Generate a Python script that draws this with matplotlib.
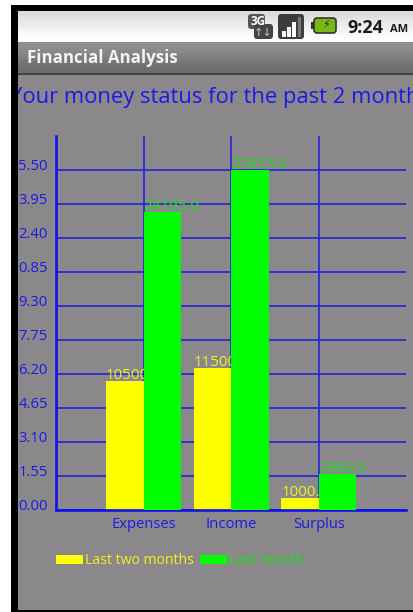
import numpy as np
import matplotlib
matplotlib.use("Agg")
import matplotlib.pyplot as plt
from matplotlib.patches import Rectangle, FancyBboxPatch

plt.rcParams['font.family'] = ['Open Sans', 'DejaVu Sans']

categories = ["Expenses", "Income", "Surplus"]
last_two_months = [10500, 11500, 1000]
last_month = [24195.0, 27615.5, 2960.5]
two_month_labels = ["10500", "11500", "1000."]
one_month_labels = ["24195.0", "27615.5", "2960.5"]
y_ticks = [0, 2761.55, 5523.10, 8284.65, 11046.20, 13807.75, 16569.30, 19330.85, 22092.40, 24853.95, 27615.50]
y_tick_labels = ["0.00", "1.55", "3.10", "4.65", "6.20", "7.75", "9.30", "0.85", "2.40", "3.95", "5.50"]
title = "Your money status for the past 2 months"

W, H = 413, 612
BLUE = "#1a1ae6"
GRID = "#2323dc"
YELLOW = "#ffff00"
GREEN = "#00ff00"
BG = "#8b888b"

fig = plt.figure(figsize=(W / 100, H / 100), dpi=100, facecolor="white")

# phone screen behind the chart, in pixel coordinates
bg = fig.add_axes([0, 0, 1, 1])
bg.set_xlim(0, W)
bg.set_ylim(H, 0)
bg.axis("off")
bg.add_patch(Rectangle((18, 73), W - 18, 537, color=BG, lw=0))
status = np.array([[0.86], [0.90], [0.93], [0.97], [1.0]])
bg.imshow(status, extent=(18, W, 42, 11), cmap="gray", vmin=0, vmax=1, aspect="auto", interpolation="bilinear")
bar_grad = np.array([[0.56], [0.53], [0.47], [0.43]])
bg.imshow(bar_grad, extent=(18, W, 73, 42), cmap="gray", vmin=0, vmax=1, aspect="auto", interpolation="bilinear")
bg.set_xlim(0, W)
bg.set_ylim(H, 0)
bg.add_patch(Rectangle((18, 73), W - 18, 2, color="#444444", lw=0))

# status icons
bg.add_patch(FancyBboxPatch((248, 14), 17, 15, boxstyle="round,pad=0,rounding_size=3", color="#555555", lw=0))
bg.add_patch(FancyBboxPatch((254, 24), 19, 15, boxstyle="round,pad=0,rounding_size=3", color="#444444", lw=0))
bg.text(258, 21.5, "3G", color="white", fontsize=8.5, weight="bold", ha="center", va="center")
bg.text(263, 33, "↑↓", color="#aaaaaa", fontsize=8, weight="bold", ha="center", va="center", family="DejaVu Sans")
bg.add_patch(FancyBboxPatch((278, 14), 26, 25, boxstyle="round,pad=0,rounding_size=3", color="#3c3c3c", lw=0))
for i, (bh, c) in enumerate(zip([6, 10, 15, 20], ["white", "white", "white", "#777777"])):
    bg.add_patch(Rectangle((282 + i * 5.2, 37 - bh), 3.6, bh, color=c, lw=0))
bg.add_patch(FancyBboxPatch((314, 18), 22, 15, boxstyle="round,pad=0,rounding_size=3", facecolor="#77b814", edgecolor="#333333", lw=1.2))
bg.add_patch(Rectangle((311, 22), 3, 7, color="#333333", lw=0))
bg.text(326, 25.5, "⚡", color="#222222", fontsize=8, ha="center", va="center", family="DejaVu Sans")
bg.text(347, 28, "9:24", color="#1a1a1a", fontsize=13, weight="bold", ha="left", va="center")
bg.text(390, 30, "AM", color="#1a1a1a", fontsize=8, weight="bold", ha="left", va="center")
bg.text(27, 58, "Financial Analysis", color="#f4f4f4", fontsize=12.2, weight="bold", ha="left", va="center")

bg.text(10, 97, title, color=BLUE, fontsize=15.8, ha="left", va="center", clip_on=True)

# black phone frame and white margin, over the clipped title
bg.add_patch(Rectangle((0, 0), W, 5, color="white", lw=0, zorder=5))
bg.add_patch(Rectangle((0, 0), 11, H, color="white", lw=0, zorder=5))
bg.add_patch(Rectangle((11, 5), W - 11, 6, color="black", lw=0, zorder=6))
bg.add_patch(Rectangle((11, 5), 7, H - 5, color="black", lw=0, zorder=6))
bg.add_patch(Rectangle((11, 610), W - 11, 2, color="black", lw=0, zorder=6))

# chart axes, placed by pixels
left, right, top, bottom = 56, 406, 136, 510
ax = fig.add_axes([left / W, 1 - bottom / H, (right - left) / W, (bottom - top) / H])
ax.patch.set_alpha(0)
x = np.arange(len(categories))
spacing = 87.7
bar_w = 37.5 / spacing
ax.set_xlim(-87.5 / spacing, (right - 143.5) / spacing)
ax.set_ylim(0, y_ticks[-1] * (bottom - top) / 340)

ax.grid(True, color=GRID, lw=1.2, zorder=1)
ax.set_axisbelow(True)
ax.set_xticks(x, categories)
ax.set_yticks(y_ticks, y_tick_labels)
ax.tick_params(length=0, labelcolor=BLUE, labelsize=10.6)
ax.tick_params(axis="x", pad=5)
ax.tick_params(axis="y", pad=6)
for lab in ax.get_yticklabels():
    lab.set_va("baseline")
for side in ["top", "right"]:
    ax.spines[side].set_visible(False)
for side in ["left", "bottom"]:
    ax.spines[side].set_color("#1010f0")
    ax.spines[side].set_linewidth(1.9)

b1 = ax.bar(x - bar_w / 2, last_two_months, bar_w, color=YELLOW, zorder=2, label="Last two months")
for xi, v, s in zip(x, last_two_months, two_month_labels):
    ax.annotate(s, (xi - bar_w, v), xytext=(0, -2), textcoords="offset pixels", color="#f2f21e",
                fontsize=10.9, ha="left", va="bottom", zorder=3)
b2 = ax.bar(x + bar_w / 2, last_month, bar_w, color=GREEN, zorder=4, label="Last month")
for xi, v, s in zip(x, last_month, one_month_labels):
    ax.annotate(s, (xi, v), xytext=(0, -2), textcoords="offset pixels", color="#1ee01e",
                fontsize=10.9, ha="left", va="bottom", zorder=5)

leg = ax.legend(handles=[b1, b2], ncols=2, frameon=False, fontsize=10.1, loc="upper left",
                bbox_to_anchor=(0, -0.116), borderaxespad=0, borderpad=0,
                handlelength=1.9, handleheight=0.6, handletextpad=0.2, columnspacing=0.4)
for t, c in zip(leg.get_texts(), ["#f2f21e", "#1ee01e"]):
    t.set_color(c)

fig.savefig("out.png", dpi=100)
